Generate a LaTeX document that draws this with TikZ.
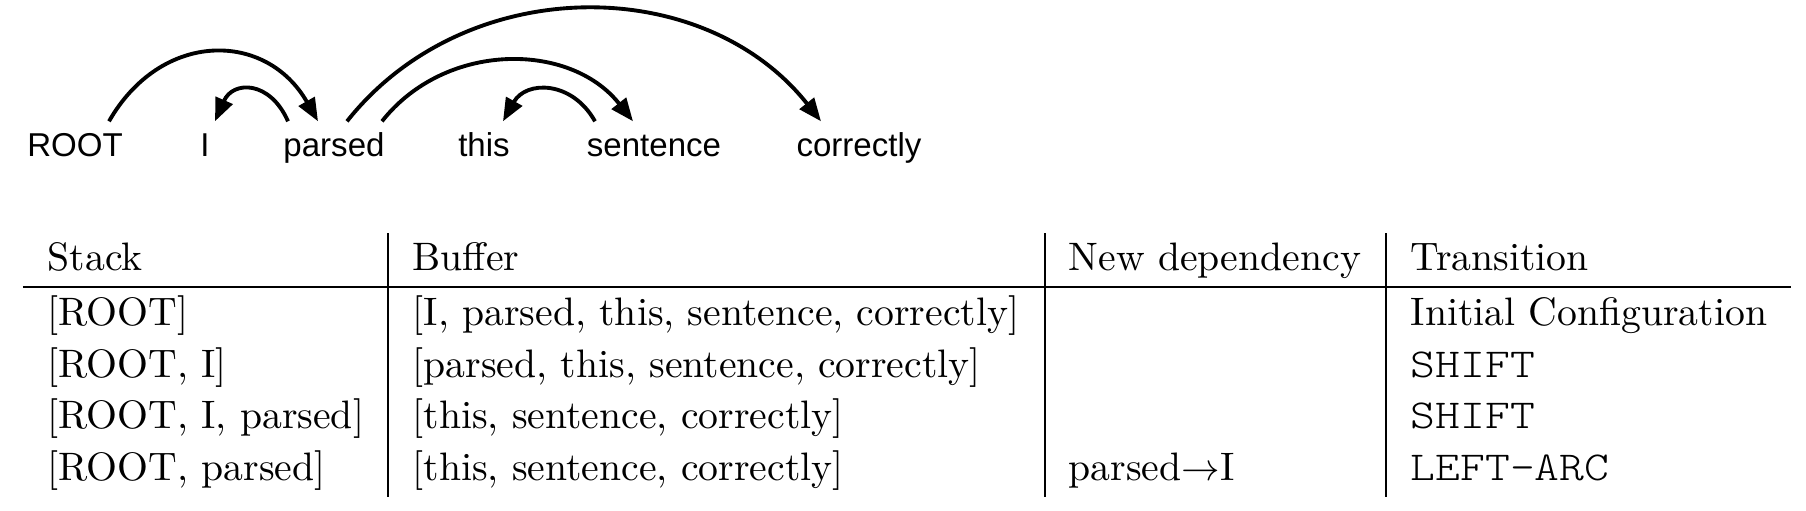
\documentclass[tikz,border=0pt]{standalone}
\usepackage{fontspec}
\setmainfont{lmroman10-regular}[Extension=.otf]
\setmonofont{lmmonolt10-regular}[Extension=.otf, FakeStretch=1.15]
\usetikzlibrary{arrows.meta}
\newfontfamily\wordfont{Liberation Sans}

\tikzset{
  word/.style={font=\wordfont\fontsize{9.4}{11}\selectfont, anchor=base, inner sep=0pt, text height=3.4mm},
  dep/.style={line width=1.1pt, -{Triangle[length=2.3mm,width=1.8mm]}},
  cell/.style={font=\fontsize{11.3}{13}\selectfont, anchor=base west, inner sep=0pt},
  op/.style={cell, font=\ttfamily\fontsize{11.7}{13}\selectfont},
  hrule/.style={line width=0.8pt},
  vrule/.style={line width=0.45pt}
}

\begin{document}
\begin{tikzpicture}
  \useasboundingbox (0,0) rectangle (18.06,5.10);
  % the sentence
  \node[word] (root) at (0.75,3.54) {ROOT};
  \node[word] (i) at (2.05,3.54) {I};
  \node[word] (parsed) at (3.34,3.54) {parsed};
  \node[word] (this) at (4.84,3.54) {this};
  \node[word] (sentence) at (6.54,3.54) {sentence};
  \node[word] (correctly) at (8.59,3.54) {correctly};
  % dependency arcs
  \draw[dep] ([xshift=3.4mm]root.north) .. controls +(0.52,0.91) and
  +(-0.52,0.91) .. ([xshift=-1.6mm]parsed.north); \draw[dep]
  ([xshift=-4.6mm]parsed.north) .. controls +(-0.18,0.41) and
  +(0.18,0.41) .. ([xshift=1mm]i.north); \draw[dep]
  ([xshift=1.3mm]parsed.north) .. controls +(1.18,1.49) and
  +(-1.18,1.49) .. ([xshift=-3.8mm]correctly.north); \draw[dep]
  ([xshift=4.8mm]parsed.north) .. controls +(0.63,0.8) and
  +(-0.63,0.8) .. ([xshift=-2.1mm]sentence.north); \draw[dep]
  ([xshift=-5.9mm]sentence.north) .. controls +(-0.23,0.41) and
  +(0.23,0.41) .. ([xshift=1.9mm]this.north);
  % the table
  \draw[hrule] (0.23,2.23) -- (17.91,2.23); \draw[vrule] (3.88,2.77)
  -- (3.88,0.13); \draw[vrule] (10.45,2.77) -- (10.45,0.13);
  \draw[vrule] (13.86,2.77) -- (13.86,0.13);
  \node[cell] (hstack) at (0.47,2.40) {Stack}; \node[cell] (hbuf) at
  (4.12,2.40) {Buffer}; \node[cell] (hdep) at (10.68,2.40) {New
    dependency}; \node[cell] (htrans) at (14.10,2.40) {Transition};
  \node[cell] (s1) at (0.47,1.85) {[ROOT]}; \node[cell] (b1) at
  (4.12,1.85) {[I, parsed, this, sentence, correctly]}; \node[cell]
  (t1) at (14.10,1.85) {Initial Configuration};
  \node[cell] (s2) at (0.47,1.33) {[ROOT, I]}; \node[cell] (b2) at
  (4.12,1.33) {[parsed, this, sentence, correctly]}; \node[op] (t2)
  at (14.10,1.33) {SHIFT};
  \node[cell] (s3) at (0.47,0.82) {[ROOT, I, parsed]}; \node[cell]
  (b3) at (4.12,0.82) {[this, sentence, correctly]}; \node[op] (t3)
  at (14.10,0.82) {SHIFT};
  \node[cell] (s4) at (0.47,0.30) {[ROOT, parsed]}; \node[cell] (b4)
  at (4.12,0.30) {[this, sentence, correctly]}; \node[cell] (d4) at
  (10.68,0.30) {parsed$\rightarrow$I}; \node[op] (t4) at
  (14.10,0.30) {LEFT-ARC};
\end{tikzpicture}
\end{document}
